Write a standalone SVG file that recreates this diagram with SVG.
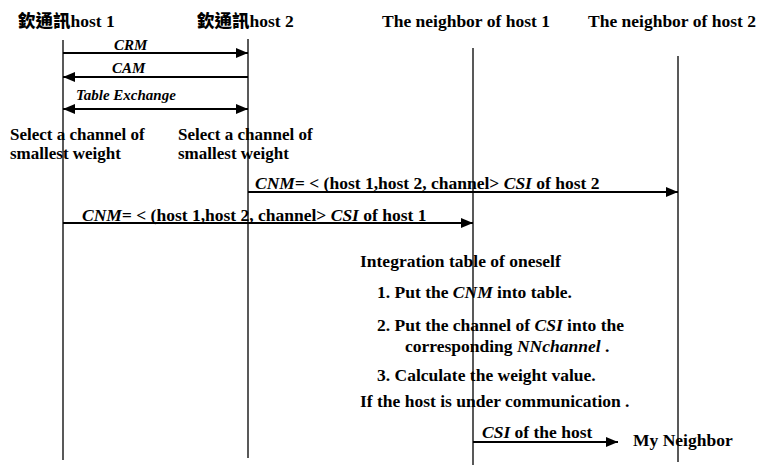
<svg xmlns="http://www.w3.org/2000/svg" width="760" height="468" viewBox="0 0 760 468">
<style>
text{font-family:"Liberation Serif","Times New Roman","Noto Sans CJK TC",serif;font-weight:bold;font-size:17.5px;fill:#000}
.cjk{font-family:"Noto Sans CJK TC","Noto Sans CJK SC",sans-serif;font-weight:900}
.lbl{font-size:15px;font-style:italic}
.it{font-style:italic}
.sel{font-size:17px}
.life{stroke:#222;stroke-width:1.5;fill:none}
.msg{stroke:#000;stroke-width:2;fill:none}
</style>
<defs>
<marker id="ah" markerUnits="userSpaceOnUse" markerWidth="13" markerHeight="11" refX="12" refY="5" orient="auto-start-reverse" viewBox="0 0 13 11">
<path d="M0,0 L12,5 L0,10 z" fill="#000"/>
</marker>
</defs>
<g id="host1">
<text x="18" y="27"><tspan class="cjk">欽通訊</tspan>host 1</text>
<line class="life" x1="63" y1="40" x2="63" y2="460"/>
</g>
<g id="host2">
<text x="197" y="27"><tspan class="cjk">欽通訊</tspan>host 2</text>
<line class="life" x1="248" y1="39" x2="248" y2="458"/>
</g>
<g id="neighbor1">
<text x="382" y="27">The neighbor of host 1</text>
<line class="life" x1="473" y1="48" x2="473" y2="465"/>
</g>
<g id="neighbor2">
<text x="588" y="27">The neighbor of host 2</text>
<line class="life" x1="678" y1="56" x2="678" y2="462"/>
</g>
<g id="connectors">
<line class="msg" x1="63" y1="53" x2="248" y2="53" marker-end="url(#ah)"/>
<line class="msg" x1="248" y1="77" x2="63" y2="77" marker-end="url(#ah)"/>
<line class="msg" x1="63" y1="109" x2="248" y2="109" marker-start="url(#ah)" marker-end="url(#ah)"/>
<line class="msg" x1="248" y1="192" x2="678" y2="192" marker-end="url(#ah)"/>
<line class="msg" x1="63" y1="223" x2="473" y2="223" marker-end="url(#ah)"/>
<line class="msg" x1="473" y1="442" x2="618" y2="442" marker-end="url(#ah)"/>
</g>
<g id="labels">
<text class="lbl" x="114" y="50">CRM</text>
<text class="lbl" x="112" y="73">CAM</text>
<text class="lbl" x="76" y="100">Table Exchange</text>
<text class="sel" x="10" y="140">Select a channel of</text>
<text class="sel" x="10" y="159">smallest weight</text>
<text class="sel" x="178" y="140">Select a channel of</text>
<text class="sel" x="178" y="159">smallest weight</text>
<text x="255" y="189"><tspan class="it">CNM=</tspan> &lt; (host 1,host 2, channel&gt; <tspan class="it">CSI</tspan> of host 2</text>
<text x="82" y="221"><tspan class="it">CNM=</tspan> &lt; (host 1,host 2, channel&gt; <tspan class="it">CSI</tspan> of host 1</text>
<text x="360" y="267">Integration table of oneself</text>
<text x="377" y="298">1.  Put the <tspan class="it">CNM</tspan> into table.</text>
<text x="377" y="331">2.  Put the channel of <tspan class="it">CSI</tspan> into the<tspan x="405" dy="21">corresponding <tspan class="it">NNchannel</tspan> .</tspan></text>
<text x="377" y="381">3.  Calculate the weight value.</text>
<text x="360" y="407">If the host is under communication .</text>
<text x="482" y="438"><tspan class="it">CSI</tspan> of the host</text>
<text x="633" y="446">My Neighbor</text>
</g>
</svg>
